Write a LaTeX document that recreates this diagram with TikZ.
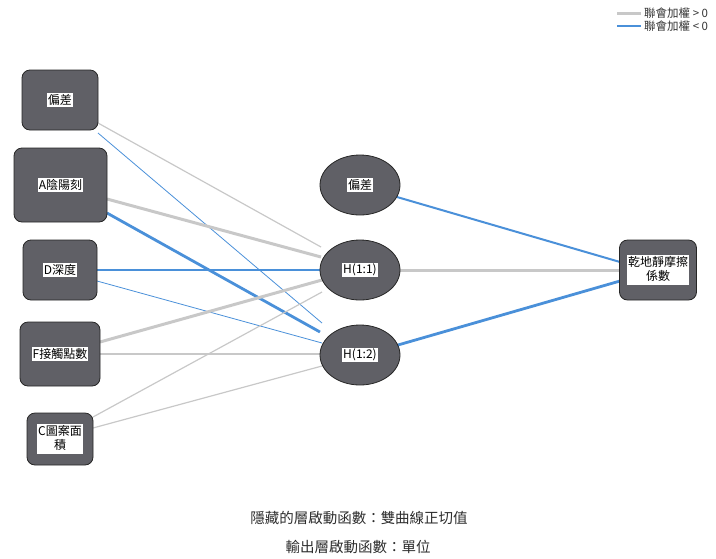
\documentclass[tikz,border=0pt]{standalone}
\usepackage{fontspec}
\setmainfont{Noto Sans CJK TC}
\usetikzlibrary{shapes.geometric}
\definecolor{nodefill}{RGB}{96,96,102}
\definecolor{poscol}{RGB}{200,200,200}
\definecolor{negcol}{RGB}{74,144,217}
\definecolor{captioncol}{RGB}{45,45,45}
\newcommand{\wlab}[1]{\setlength{\fboxsep}{1pt}\colorbox{white}{#1}}
\tikzset{
  inbox/.style={draw=black!85, line width=0.8pt, fill=nodefill, rounded corners=8pt, inner sep=0pt, font=\fontsize{12}{13}\selectfont},
  hid/.style={draw=black!85, line width=0.8pt, fill=nodefill, ellipse, minimum width=80pt, minimum height=60pt, inner sep=0pt, font=\fontsize{12}{13}\selectfont},
  posthin/.style={draw=poscol, line width=1.2pt},
  posmid/.style={draw=poscol, line width=2pt},
  posthick/.style={draw=poscol, line width=3pt},
  negthin/.style={draw=negcol, line width=0.8pt},
  negmid/.style={draw=negcol, line width=2pt},
  negthick/.style={draw=negcol, line width=2.8pt},
}
\begin{document}
\begin{tikzpicture}[x=1pt,y=-1pt]
\useasboundingbox (0,0) rectangle (716,558);
\clip (0,0) rectangle (716,558);
% connectors first (under nodes)
\coordinate (i0a) at (98,123);
\coordinate (i0b) at (98,133);
\coordinate (iAa) at (107,199);
\coordinate (iAb) at (107,213);
\coordinate (iDa) at (97,270);
\coordinate (iDb) at (97,281);
\coordinate (iFa) at (100,342);
\coordinate (iFb) at (100,354);
\coordinate (iCa) at (93,417);
\coordinate (iCb) at (93,428);
\coordinate (h1a) at (321,247);
\coordinate (h1b) at (321,257);
\coordinate (h1c) at (320,270);
\coordinate (h1d) at (322,280);
\coordinate (h1e) at (322,292);
\coordinate (h2a) at (322,323);
\coordinate (h2b) at (320,332);
\coordinate (h2c) at (322,343);
\coordinate (h2d) at (320,354);
\coordinate (h2e) at (322,366);
\coordinate (hb0) at (397,197);
\coordinate (h1o) at (400,270);
\coordinate (h2o) at (398,345);
\coordinate (oa) at (620,262);
\coordinate (ob) at (620,270);
\coordinate (oc) at (620,281);

\draw[posthin] (i0a) -- (h1a);
\draw[negthin] (i0b) -- (h2a);
\draw[posthick] (iAa) -- (h1b);
\draw[negthick] (iAb) -- (h2b);
\draw[negmid] (iDa) -- (h1c);
\draw[negthin] (iDb) -- (h2c);
\draw[posthick] (iFa) -- (h1d);
\draw[posmid] (iFb) -- (h2d);
\draw[posthin] (iCa) -- (h1e);
\draw[posthin] (iCb) -- (h2e);
\draw[negmid] (hb0) -- (oa);
\draw[posthick] (h1o) -- (ob);
\draw[negthick] (h2o) -- (oc);

% input nodes
\node[inbox, minimum width=76pt, minimum height=60pt] (in0) at (60,100) {\wlab{偏差}};
\node[inbox, minimum width=93pt, minimum height=74pt] (inA) at (60.5,185) {\wlab{A陰陽刻}};
\node[inbox, minimum width=74pt, minimum height=60pt] (inD) at (60,270) {\wlab{D深度}};
\node[inbox, minimum width=80pt, minimum height=64pt] (inF) at (60,354) {\wlab{F接觸點數}};
\node[inbox, minimum width=66pt, minimum height=52pt] (inC) at (60,439) {\wlab{\begin{tabular}{@{}c@{}}C圖案面\\積\end{tabular}}};

% hidden nodes
\node[hid] (hb) at (360,185) {\wlab{偏差}};
\node[hid] (h1) at (360,270) {\wlab{H(1:1)}};
\node[hid] (h2) at (360,355) {\wlab{H(1:2)}};

% output
\node[inbox, minimum width=77pt, minimum height=60pt] (out) at (658,270) {\wlab{\begin{tabular}{@{}c@{}}乾地靜摩擦\\係數\end{tabular}}};

% legend
\coordinate (lg1a) at (617,13);
\coordinate (lg1b) at (641,13);
\coordinate (lg2a) at (617,26);
\coordinate (lg2b) at (641,26);
\draw[posthick] (lg1a) -- (lg1b);
\draw[negthick] (lg2a) -- (lg2b);
\node[anchor=west, inner sep=0pt, font=\fontsize{11.5}{12}\selectfont, text=black!80] (lgt1) at (644,13) {聯會加權 > 0};
\node[anchor=west, inner sep=0pt, font=\fontsize{11.5}{12}\selectfont, text=black!80] (lgt2) at (644,26) {聯會加權 < 0};

% captions
\node[font=\fontsize{14.5}{15}\selectfont, text=captioncol, inner sep=0pt] (cap1) at (359,518) {隱藏的層啟動函數：雙曲線正切值};
\node[font=\fontsize{14.5}{15}\selectfont, text=captioncol, inner sep=0pt] (cap2) at (358,547) {輸出層啟動函數：單位};
\end{tikzpicture}
\end{document}
